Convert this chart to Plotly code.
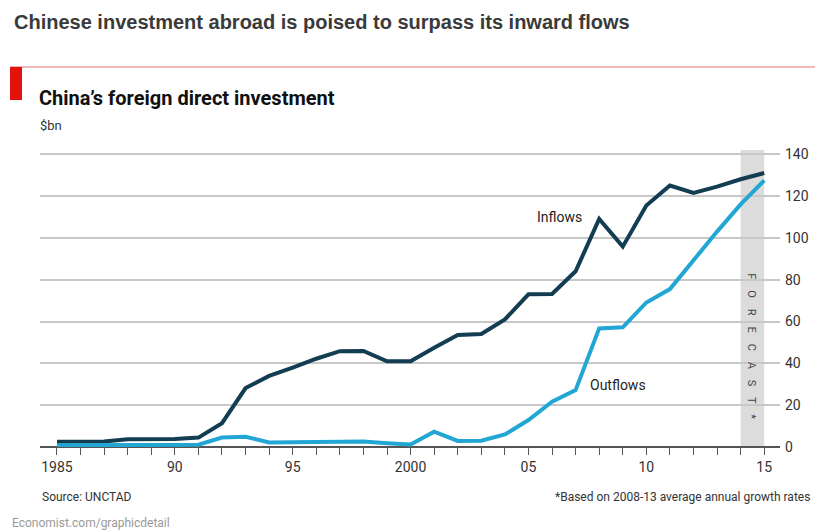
import plotly.graph_objects as go

years = list(range(1985, 2016))
inflows = [2.5, 2.5, 2.6, 3.7, 3.7, 3.8, 4.5, 11.4, 28.2, 34.0, 38.0, 42.2, 45.8, 45.9, 41.0, 41.0,
           47.5, 53.5, 54.0, 61.0, 73.0, 73.2, 84.0, 109.0, 95.8, 115.5, 125.0, 121.5, 124.5, 128.0, 131.0]
outflows = [0.8, 0.8, 0.9, 1.0, 1.0, 1.0, 1.1, 4.5, 4.9, 2.2, 2.3, 2.4, 2.6, 2.6, 1.8, 1.2,
            7.3, 2.9, 3.0, 6.0, 12.9, 21.7, 27.2, 56.7, 57.2, 69.1, 75.5, 89.5, 103.0, 116.0, 127.5]
x_tick_vals = [1985, 1990, 1995, 2000, 2005, 2010, 2015]
x_tick_text = ["1985", "90", "95", "2000", "05", "10", "15"]
y_tick_vals = [0, 20, 40, 60, 80, 100, 120, 140]

W, H = 815, 530
L, R, T, B = 40, 780, 150, 447


def px(x):
    return (x - L) / (R - L)


def py(y):
    return (B - y) / (B - T)


COND = "Liberation Sans Narrow, Roboto, Arial Narrow, sans-serif"

fig = go.Figure()
fig.add_trace(go.Scatter(x=years, y=inflows, mode="lines", name="Inflows",
                         line=dict(color="#123d52", width=4), showlegend=False))
fig.add_trace(go.Scatter(x=years, y=outflows, mode="lines", name="Outflows",
                         line=dict(color="#22a7d4", width=4), showlegend=False))

shapes = [
    dict(type="rect", xref="x", yref="paper", x0=2014, x1=2015, y0=0, y1=1,
         fillcolor="#dcdcdc", line=dict(width=0), layer="below"),
    dict(type="line", xref="paper", yref="paper", x0=px(10), x1=px(815), y0=py(67), y1=py(67),
         line=dict(color="#e07070", width=1.2)),
    dict(type="rect", xref="paper", yref="paper", x0=px(10), x1=px(22), y0=py(100), y1=py(67),
         fillcolor="#e3120b", line=dict(width=0)),
]

annotations = [
    dict(text="<b>Chinese investment abroad is poised to surpass its inward flows</b>",
         xref="paper", yref="paper", x=px(12), y=py(22), xanchor="left", yanchor="middle",
         showarrow=False, font=dict(family="Liberation Sans, Arial, sans-serif", size=20, color="#3a3a3a")),
    dict(text="<b>China’s foreign direct investment</b>",
         xref="paper", yref="paper", x=px(37), y=py(98), xanchor="left", yanchor="middle",
         showarrow=False, font=dict(family=COND, size=20, color="#111111")),
    dict(text="$bn", xref="paper", yref="paper", x=px(38), y=py(125), xanchor="left", yanchor="middle",
         showarrow=False, font=dict(family=COND, size=13, color="#333333")),
    dict(text="Inflows", xref="x", yref="y", x=2006.3, y=110, xanchor="center", yanchor="middle",
         showarrow=False, font=dict(family=COND, size=14, color="#222222")),
    dict(text="Outflows", xref="x", yref="y", x=2008.8, y=29.6, xanchor="center", yanchor="middle",
         showarrow=False, font=dict(family=COND, size=14, color="#222222")),
    dict(text="F    O    R    E    C    A    S    T    *", xref="x", yref="y", x=2014.45, y=48, textangle=90,
         xanchor="center", yanchor="middle", showarrow=False,
         font=dict(family=COND, size=11, color="#444444")),
    dict(text="Source: UNCTAD", xref="paper", yref="paper", x=px(40), y=py(497),
         xanchor="left", yanchor="middle", showarrow=False,
         font=dict(family=COND, size=12, color="#333333")),
    dict(text="*Based on 2008-13 average annual growth rates", xref="paper", yref="paper",
         x=px(812), y=py(497), xanchor="right", yanchor="middle", showarrow=False,
         font=dict(family=COND, size=12, color="#333333")),
    dict(text="Economist.com/graphicdetail", xref="paper", yref="paper", x=px(10), y=py(523),
         xanchor="left", yanchor="middle", showarrow=False,
         font=dict(family=COND, size=12, color="#9a9a9a")),
]

fig.update_layout(
    width=W, height=H,
    margin=dict(l=L, r=W - R, t=T, b=H - B, autoexpand=False),
    paper_bgcolor="white", plot_bgcolor="white",
    shapes=shapes, annotations=annotations,
    xaxis=dict(range=[1984.28, 2015.67], tickvals=years,
               ticktext=[x_tick_text[x_tick_vals.index(y)] if y in x_tick_vals else "" for y in years],
               ticks="outside", ticklen=7, tickwidth=1.2, tickcolor="#555555",
               showgrid=False, zeroline=False, showline=False, automargin=False,
               tickfont=dict(family=COND, size=14, color="#333333"), fixedrange=True),
    yaxis=dict(range=[0, 142], tickvals=y_tick_vals, side="right",
               showgrid=True, gridcolor="#c8c8c8", gridwidth=1.5, automargin=False,
               zeroline=True, zerolinecolor="#555555", zerolinewidth=1.5,
               ticks="", ticklabelstandoff=4,
               tickfont=dict(family=COND, size=14, color="#333333"), fixedrange=True),
)

fig.write_html("out.html")
